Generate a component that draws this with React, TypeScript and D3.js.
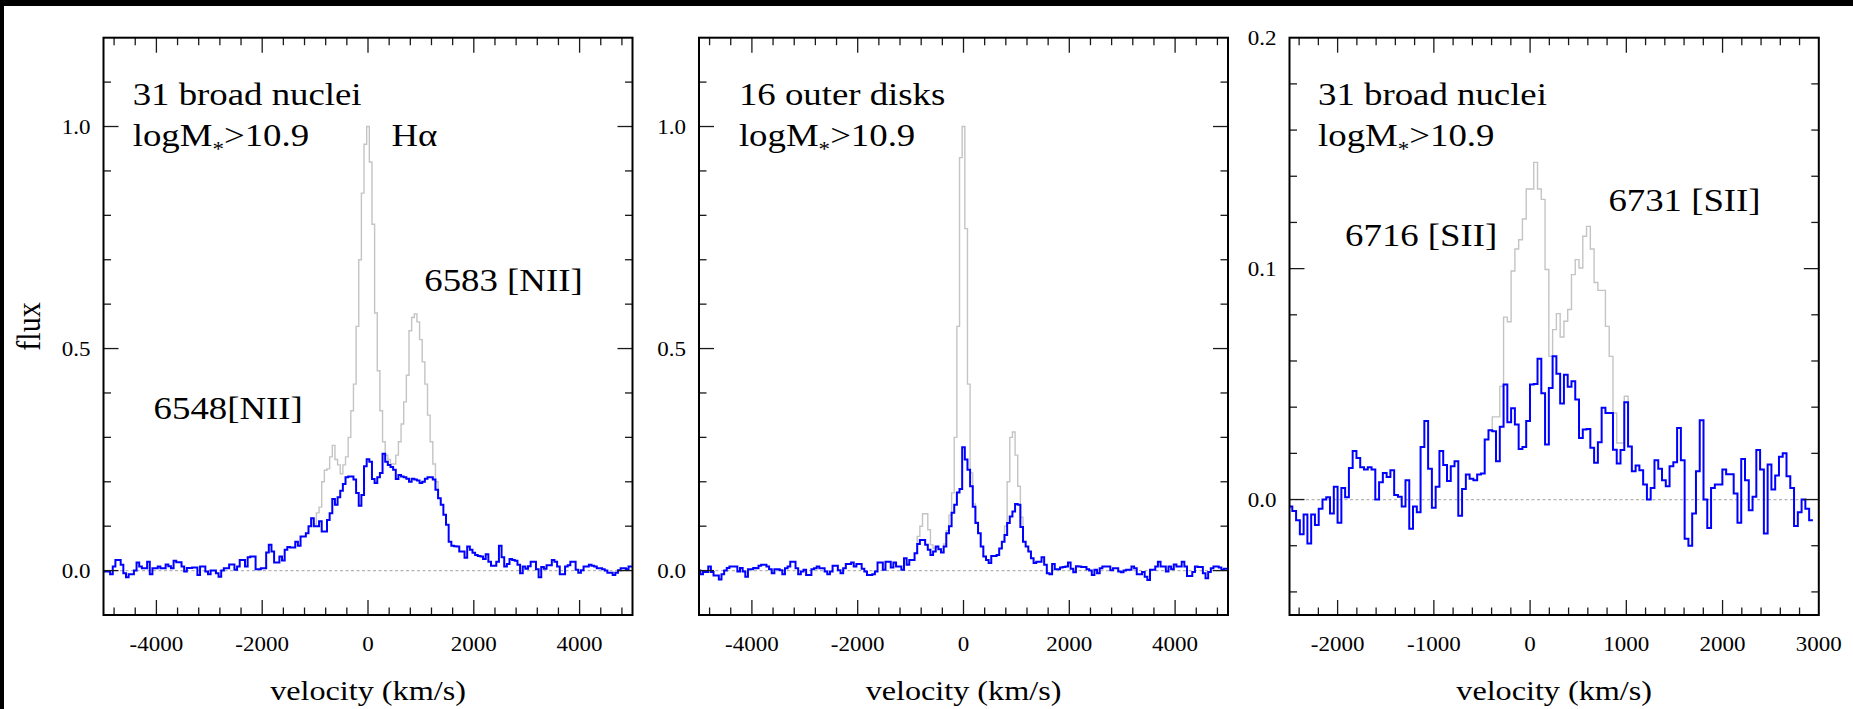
import React from 'react';
import * as d3 from 'd3';

const W = 1853;
const H = 709;
const SX = 1.15;
const FONT = '"Liberation Serif", "Times New Roman", Times, serif';

// ---------- Panel 1: 31 broad nuclei, Halpha + [NII] (bins 50 km/s, centres from -5000) ----------
const P12_BIN = 50;
const P1_BLUE_START = -5000;
const P1_BLUE = [
  -0.002, -0.002, -0.002, -0.008, 0.009, 0.024, 0.024, 0.013, -0.006, -0.015,
  -0.008, -0.008, 0.0, 0.018, 0.009, 0.005, 0.005, 0.02, -0.008, 0.005,
  0.005, 0.009, 0.005, 0.005, 0.014, 0.01, 0.005, 0.022, 0.019, 0.019,
  0.009, -0.002, 0.006, 0.006, 0.007, 0.007, -0.01, 0.009, 0.009, -0.002,
  -0.008, 0.0, 0.0, -0.006, -0.014, 0.0, 0.005, 0.005, 0.014, 0.014,
  0.002, 0.009, 0.024, 0.024, 0.009, 0.03, 0.032, 0.032, 0.003, 0.003,
  0.005, 0.005, 0.041, 0.058, 0.043, 0.018, 0.018, 0.032, 0.023, 0.047,
  0.053, 0.052, 0.052, 0.065, 0.056, 0.077, 0.077, 0.084, 0.1, 0.118,
  0.1, 0.1, 0.111, 0.088, 0.088, 0.114, 0.129, 0.161, 0.148, 0.165,
  0.18, 0.195, 0.21, 0.212, 0.212, 0.205, 0.175, 0.146, 0.17, 0.235,
  0.251, 0.245, 0.206, 0.197, 0.21, 0.22, 0.263, 0.245, 0.238, 0.233,
  0.227, 0.206, 0.215, 0.212, 0.21, 0.207, 0.2, 0.207, 0.205, 0.203,
  0.197, 0.2, 0.207, 0.21, 0.21, 0.205, 0.182, 0.163, 0.148, 0.126,
  0.103, 0.065, 0.056, 0.055, 0.054, 0.043, 0.043, 0.029, 0.054, 0.047,
  0.04, 0.035, 0.033, 0.032, 0.026, 0.037, 0.02, 0.011, 0.011, 0.02,
  0.056, 0.03, 0.009, 0.015, 0.026, 0.024, 0.022, 0.013, -0.006, 0.009,
  0.004, 0.01, 0.02, 0.02, 0.003, -0.015, 0.008, 0.004, 0.012, 0.012,
  0.024, 0.02, 0.009, -0.008, -0.008, 0.009, 0.012, 0.02, 0.02, 0.002,
  -0.005, 0.001, 0.009, 0.009, 0.013, 0.011, 0.009, 0.005, 0.005, 0.003,
  0.0, -0.005, -0.005, -0.01, -0.005, 0.001, 0.005, 0.005, 0.003, 0.009,
  0.009,
];
const P1_GREY_START = -1000;
const P1_GREY = [
  0.105, 0.13, 0.143, 0.2, 0.226, 0.229, 0.256, 0.282, 0.25, 0.238,
  0.218, 0.238, 0.256, 0.3, 0.36, 0.42, 0.55, 0.7, 0.85, 0.96,
  1.0, 0.92, 0.78, 0.58, 0.45, 0.36, 0.29, 0.26, 0.25, 0.24,
  0.24, 0.26, 0.29, 0.33, 0.38, 0.44, 0.54, 0.57, 0.578, 0.56,
  0.52, 0.47, 0.42, 0.35, 0.29, 0.24, 0.2, 0.163,
];

// ---------- Panel 2: 16 outer disks ----------
const P2_BLUE_START = -5000;
const P2_BLUE = [
  0.0, -0.008, -0.003, -0.003, 0.009, -0.003, -0.011, -0.011, -0.02, -0.008,
  0.0, 0.006, 0.009, 0.009, 0.009, -0.002, 0.006, -0.002, -0.014, 0.003,
  0.003, 0.006, 0.005, 0.011, 0.013, 0.013, 0.009, 0.003, -0.006, 0.003,
  0.003, 0.001, -0.008, 0.005, 0.009, 0.02, 0.02, 0.005, -0.008, -0.002,
  0.002, -0.01, -0.01, 0.003, 0.005, 0.009, 0.005, 0.005, -0.002, -0.008,
  -0.002, 0.011, 0.011, 0.001, -0.006, 0.005, 0.015, 0.015, 0.018, 0.009,
  0.015, 0.015, 0.004, -0.002, -0.01, -0.01, -0.008, -0.002, 0.018, 0.018,
  0.002, 0.02, 0.02, 0.007, 0.018, 0.009, 0.009, 0.002, 0.028, 0.013,
  0.024, 0.024, 0.039, 0.06, 0.069, 0.069, 0.058, 0.047, 0.035, 0.043,
  0.054, 0.048, 0.041, 0.054, 0.084, 0.1, 0.13, 0.148, 0.176, 0.184,
  0.278, 0.25, 0.227, 0.19, 0.144, 0.107, 0.084, 0.054, 0.032, 0.024,
  0.017, 0.033, 0.033, 0.035, 0.05, 0.065, 0.08, 0.107, 0.122, 0.133,
  0.15, 0.148, 0.098, 0.065, 0.054, 0.043, 0.028, 0.017, 0.02, 0.02,
  0.03, 0.013, -0.006, -0.008, 0.015, 0.003, 0.003, 0.007, 0.008, 0.009,
  0.018, 0.004, -0.004, 0.01, 0.009, 0.008, 0.008, 0.003, 0.0, -0.01,
  0.002, -0.006, 0.005, 0.009, 0.009, 0.009, 0.001, 0.005, 0.005, -0.002,
  -0.004, 0.0, 0.002, 0.002, 0.009, 0.005, -0.008, -0.008, -0.003, -0.014,
  -0.021, 0.002, 0.002, 0.009, 0.02, 0.009, 0.009, -0.002, 0.009, 0.003,
  0.014, 0.009, 0.009, 0.02, 0.009, -0.012, -0.012, -0.003, 0.009, 0.008,
  0.008, -0.006, -0.017, -0.003, 0.005, 0.009, 0.009, 0.007, 0.002, 0.004,
  0.004,
];
const P2_GREY_START = -900;
const P2_GREY = [
  0.039, 0.077, 0.1, 0.128, 0.128, 0.092, 0.058, 0.05, 0.054, 0.048,
  0.041, 0.06, 0.09, 0.125, 0.175, 0.3, 0.55, 0.93, 1.0, 0.77,
  0.42, 0.22, 0.15, 0.11, 0.084, 0.054, 0.032, 0.024, 0.017, 0.033,
  0.033, 0.035, 0.05, 0.065, 0.1, 0.2, 0.3, 0.312, 0.26, 0.19,
  0.12, 0.065,
];

// ---------- Panel 3: [SII] doublet (bins 39.2 km/s, left edge -2510) ----------
const P3_BIN = 39.2;
const P3_BLUE_EDGE = -2510;
const P3_BLUE = [
  -0.003, -0.005, -0.009, -0.015, -0.0065, -0.019, -0.0065, -0.011, -0.004, 0.0,
  0.001, -0.006, 0.0055, -0.01, 0.005, 0.001, 0.0137, 0.021, 0.018, 0.014,
  0.013, 0.014, 0.013, 0.0, 0.0075, 0.0115, 0.0098, 0.0127, 0.002, 0.0012,
  -0.003, 0.0084, -0.0127, -0.003, -0.0055, 0.0228, 0.034, 0.0133, -0.0036, 0.0055,
  0.021, 0.015, 0.008, 0.0144, 0.0166, -0.007, 0.0046, 0.0108, 0.009, 0.0084,
  0.0108, 0.0113, 0.026, 0.03, 0.0296, 0.0166, 0.0315, 0.0498, 0.0335, 0.0395,
  0.0325, 0.0219, 0.0228, 0.034, 0.0498, 0.05, 0.061, 0.046, 0.0238,
  0.0483, 0.062, 0.0545, 0.0416, 0.054, 0.0488, 0.0512, 0.0433, 0.0267, 0.0303,
  0.0305, 0.0224, 0.0159, 0.0248, 0.0397, 0.0375, 0.0375, 0.0216, 0.0156, 0.0214,
  0.0421, 0.023, 0.0123, 0.0147, 0.0127, 0.0065, 0.0, 0.005, 0.017, 0.0133,
  0.0084, 0.0058, 0.0144, 0.0162, 0.031, 0.017, -0.017, -0.02, -0.006, 0.0123,
  0.0343, 0.0, -0.0123, 0.005, 0.0065, 0.0065, 0.013, 0.011, 0.011, 0.0026,
  -0.0101, 0.0176, 0.0084, -0.0046, 0.0012, 0.0214, 0.013, -0.0147, 0.0152, 0.0043,
  0.0104, 0.0185, 0.02, 0.0101, 0.005, -0.0115, -0.0055, 0.0, -0.004, -0.009,
];
const P3_GREY_FIRST_BIN = 53;
const P3_GREY = [
  0.03, 0.0358, 0.0358, 0.049, 0.079, 0.077, 0.099, 0.1085, 0.1125, 0.1215,
  0.1345, 0.1345, 0.146, 0.1345, 0.13, 0.0996, 0.062, 0.0736, 0.0805, 0.0704,
  0.0772, 0.0823, 0.0974, 0.1039, 0.1003, 0.114, 0.1183, 0.1085, 0.094, 0.0906,
  0.0906, 0.075, 0.062, 0.0375, 0.0245, 0.0245, 0.0447, 0.023,
];

// ---------- ticks ----------
const X_LABELS_12 = [-4000, -2000, 0, 2000, 4000];
const Y_LABELS_12 = [0.0, 0.5, 1.0];
const X_LABELS_3 = [-2000, -1000, 0, 1000, 2000, 3000];
const Y_LABELS_3 = [0.0, 0.1, 0.2];

type Ann = { text: string; x: number; y: number; kind?: 'logm' };

type PanelCfg = {
  id: string;
  x0: number;
  x1: number;
  xDomain: [number, number];
  yDomain: [number, number];
  xMinorStep: number;
  xMajorEvery: number;
  yMinorStep: number;
  yMajorEvery: number;
  xLabels: number[];
  yLabels: number[];
  grey: { edge: number; width: number; values: number[] };
  blue: { edge: number; width: number; values: number[] };
  anns: Ann[];
};

const TOP = 37.7;
const BOTTOM = 615;

const panels: PanelCfg[] = [
  {
    id: 'p1', x0: 103.5, x1: 632.5, xDomain: [-5000, 5000], yDomain: [-0.1, 1.2],
    xMinorStep: 400, xMajorEvery: 5, yMinorStep: 0.1, yMajorEvery: 5,
    xLabels: X_LABELS_12, yLabels: Y_LABELS_12,
    grey: { edge: P1_GREY_START - P12_BIN / 2, width: P12_BIN, values: P1_GREY },
    blue: { edge: P1_BLUE_START - P12_BIN / 2, width: P12_BIN, values: P1_BLUE },
    anns: [
      { text: '31 broad nuclei', x: 132.7, y: 105 },
      { text: '', x: 132.7, y: 146, kind: 'logm' },
      { text: 'H\u03b1', x: 391.4, y: 145.6 },
      { text: '6583 [NII]', x: 424.3, y: 290.8 },
      { text: '6548[NII]', x: 153.6, y: 419.2 },
    ],
  },
  {
    id: 'p2', x0: 699, x1: 1228, xDomain: [-5000, 5000], yDomain: [-0.1, 1.2],
    xMinorStep: 400, xMajorEvery: 5, yMinorStep: 0.1, yMajorEvery: 5,
    xLabels: X_LABELS_12, yLabels: Y_LABELS_12,
    grey: { edge: P2_GREY_START - P12_BIN / 2, width: P12_BIN, values: P2_GREY },
    blue: { edge: P2_BLUE_START - P12_BIN / 2, width: P12_BIN, values: P2_BLUE },
    anns: [
      { text: '16 outer disks', x: 738.9, y: 105 },
      { text: '', x: 738.9, y: 146, kind: 'logm' },
    ],
  },
  {
    id: 'p3', x0: 1289.5, x1: 1818.8, xDomain: [-2500, 3000], yDomain: [-0.05, 0.2],
    xMinorStep: 200, xMajorEvery: 5, yMinorStep: 0.02, yMajorEvery: 5,
    xLabels: X_LABELS_3, yLabels: Y_LABELS_3,
    grey: { edge: P3_BLUE_EDGE + P3_GREY_FIRST_BIN * P3_BIN, width: P3_BIN, values: P3_GREY },
    blue: { edge: P3_BLUE_EDGE, width: P3_BIN, values: P3_BLUE },
    anns: [
      { text: '31 broad nuclei', x: 1318.1, y: 105 },
      { text: '', x: 1318.1, y: 146, kind: 'logm' },
      { text: '6716 [SII]', x: 1345.1, y: 246.4 },
      { text: '6731 [SII]', x: 1608.4, y: 211.2 },
    ],
  },
];

function stepPath(
  s: { edge: number; width: number; values: number[] },
  x: d3.ScaleLinear<number, number>,
  y: d3.ScaleLinear<number, number>
) {
  const pts: [number, number][] = s.values.map((v, i) => [s.edge + i * s.width, v]);
  pts.push([s.edge + s.values.length * s.width, s.values[s.values.length - 1]]);
  return (
    d3
      .line<[number, number]>()
      .x((d) => x(d[0]))
      .y((d) => y(d[1]))
      .curve(d3.curveStepAfter)(pts) || ''
  );
}

function SText(props: {
  x: number;
  y: number;
  size: number;
  anchor?: 'start' | 'middle' | 'end';
  rotate?: number;
  children: React.ReactNode;
}) {
  const { x, y, size, anchor = 'start', rotate = 0, children } = props;
  return (
    <text
      transform={`translate(${x},${y}) scale(${SX},1)${rotate ? ` rotate(${rotate})` : ''}`}
      fontSize={size}
      fontFamily={FONT}
      textAnchor={anchor}
      fill="#000"
    >
      {children}
    </text>
  );
}

function Panel({ p }: { p: PanelCfg }) {
  const x = d3.scaleLinear().domain(p.xDomain).range([p.x0, p.x1]);
  const y = d3.scaleLinear().domain(p.yDomain).range([BOTTOM, TOP]);

  // tick positions (integers of step to avoid float drift)
  const xTicks: { v: number; major: boolean }[] = [];
  const kx0 = Math.ceil(p.xDomain[0] / p.xMinorStep);
  const kx1 = Math.floor(p.xDomain[1] / p.xMinorStep);
  for (let k = kx0; k <= kx1; k++) {
    const v = k * p.xMinorStep;
    if (v <= p.xDomain[0] || v >= p.xDomain[1]) continue;
    xTicks.push({ v, major: k % p.xMajorEvery === 0 });
  }
  const yTicks: { v: number; major: boolean }[] = [];
  const ky0 = Math.ceil(p.yDomain[0] / p.yMinorStep - 1e-6);
  const ky1 = Math.floor(p.yDomain[1] / p.yMinorStep + 1e-6);
  for (let k = ky0; k <= ky1; k++) {
    const v = k * p.yMinorStep;
    if (Math.abs(v - p.yDomain[0]) < 1e-9 || Math.abs(v - p.yDomain[1]) < 1e-9) continue;
    yTicks.push({ v, major: k % p.yMajorEvery === 0 });
  }
  const MAJ = 15;
  const MIN = 7.5;
  const tickColor = '#1a1a1a';

  return (
    <g>
      <defs>
        <clipPath id={`clip-${p.id}`}>
          <rect x={p.x0} y={TOP} width={p.x1 - p.x0} height={BOTTOM - TOP} />
        </clipPath>
      </defs>
      <g clipPath={`url(#clip-${p.id})`}>
        <line
          x1={p.x0}
          x2={p.x1}
          y1={y(0)}
          y2={y(0)}
          stroke="#b4b4b4"
          strokeWidth={1.3}
          strokeDasharray="3,2.5"
        />
        <path d={stepPath(p.grey, x, y)} fill="none" stroke="#c4c4c4" strokeWidth={1.4} />
        <path d={stepPath(p.blue, x, y)} fill="none" stroke="#0000ff" strokeWidth={2} />
      </g>
      {/* ticks */}
      {xTicks.map((t) => (
        <g key={`xt${t.v}`} stroke={tickColor} strokeWidth={1.3}>
          <line x1={x(t.v)} x2={x(t.v)} y1={BOTTOM} y2={BOTTOM - (t.major ? MAJ : MIN)} />
          <line x1={x(t.v)} x2={x(t.v)} y1={TOP} y2={TOP + (t.major ? MAJ : MIN)} />
        </g>
      ))}
      {yTicks.map((t) => (
        <g key={`yt${t.v.toFixed(3)}`} stroke={tickColor} strokeWidth={1.3}>
          <line x1={p.x0} x2={p.x0 + (t.major ? MAJ : MIN)} y1={y(t.v)} y2={y(t.v)} />
          <line x1={p.x1} x2={p.x1 - (t.major ? MAJ : MIN)} y1={y(t.v)} y2={y(t.v)} />
        </g>
      ))}
      <rect
        x={p.x0}
        y={TOP}
        width={p.x1 - p.x0}
        height={BOTTOM - TOP}
        fill="none"
        stroke="#000"
        strokeWidth={2}
      />
      {/* tick labels */}
      {p.xLabels.map((v) => (
        <SText key={`xl${v}`} x={x(v)} y={651} size={20} anchor="middle">
          {String(v)}
        </SText>
      ))}
      {p.yLabels.map((v) => (
        <SText key={`yl${v}`} x={p.x0 - 13} y={y(v) + 7.5} size={20} anchor="end">
          {v.toFixed(1)}
        </SText>
      ))}
      {/* axis title */}
      <SText x={(p.x0 + p.x1) / 2} y={700} size={28} anchor="middle">
        velocity (km/s)
      </SText>
      {/* annotations */}
      {p.anns.map((a, i) =>
        a.kind === 'logm' ? (
          <SText key={`a${i}`} x={a.x} y={a.y} size={32}>
            logM
            <tspan fontSize={20} dy={10}>
              *
            </tspan>
            <tspan dy={-10}>&gt;10.9</tspan>
          </SText>
        ) : (
          <SText key={`a${i}`} x={a.x} y={a.y} size={32}>
            {a.text}
          </SText>
        )
      )}
    </g>
  );
}

export default function App() {
  return (
    <svg
      width={W}
      height={H}
      viewBox={`0 0 ${W} ${H}`}
      style={{ position: 'absolute', left: 0, top: 0, display: 'block' }}
    >
      <rect x={0} y={0} width={W} height={H} fill="#fff" />
      <rect x={0} y={0} width={W} height={6} fill="#000" />
      <rect x={0} y={0} width={4} height={H} fill="#000" />
      {panels.map((p) => (
        <Panel key={p.id} p={p} />
      ))}
      <SText x={40} y={326.5} size={30} anchor="middle" rotate={-90}>
        flux
      </SText>
    </svg>
  );
}
